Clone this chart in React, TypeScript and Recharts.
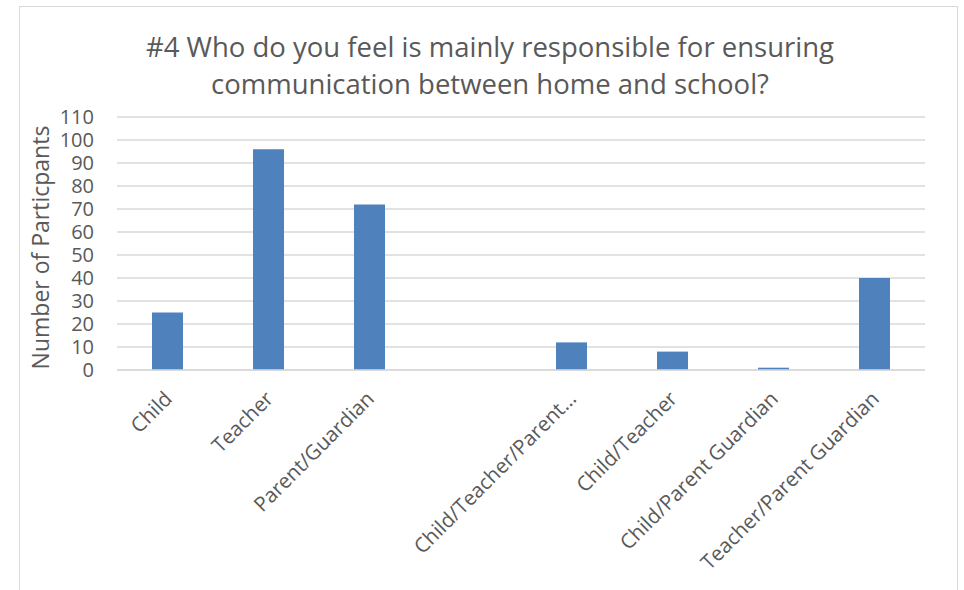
import React from 'react';
import { BarChart, Bar, XAxis, YAxis, CartesianGrid } from 'recharts';

// survey answers (4th slot is an empty category in the source sheet)
const categories = [
  'Child',
  'Teacher',
  'Parent/Guardian',
  '',
  'Child/Teacher/Parent…',
  'Child/Teacher',
  'Child/Parent Guardian',
  'Teacher/Parent Guardian',
];
const participants = [25, 96, 72, null, 12, 8, 1, 40];
const yTicks = [0, 10, 20, 30, 40, 50, 60, 70, 80, 90, 100, 110];

const titleLines = [
  '#4 Who do you feel is mainly responsible for ensuring',
  'communication between home and school?',
];
const yLabel = 'Number of Particpants';

const data = categories.map((name, i) => ({ name, value: participants[i] }));

const FONT = '"Open Sans", "Segoe UI", sans-serif';
const TEXT = '#595959';

const XTick = (props: any) => {
  const { x, y, payload } = props;
  return (
    <g transform={`translate(${x + 6},${y + 28})`}>
      <text
        x={0}
        y={0}
        textAnchor="end"
        transform="rotate(-45)"
        fill={TEXT}
        fontSize={20.5}
        fontFamily={FONT}
      >
        {payload.value}
      </text>
    </g>
  );
};

const YLabel = (props: any) => {
  const { viewBox } = props;
  const cx = 40;
  const cy = viewBox.y + viewBox.height / 2 + 4;
  return (
    <text
      x={cx}
      y={cy}
      transform={`rotate(-90, ${cx}, ${cy})`}
      textAnchor="middle"
      dominantBaseline="central"
      fill={TEXT}
      fontSize={23}
      fontFamily={FONT}
    >
      {yLabel}
    </text>
  );
};

export default function App() {
  return (
    <div style={{ position: 'absolute', left: 0, top: 0, width: 964, height: 590, background: '#fff', overflow: 'hidden' }}>
      <div
        style={{
          position: 'absolute',
          left: 19,
          top: 6,
          width: 939,
          height: 600,
          border: '1px solid #d9d9d9',
          boxSizing: 'border-box',
        }}
      />
      <svg style={{ position: 'absolute', left: 0, top: 0 }} width={964} height={110}>
        {titleLines.map((t, i) => (
          <text
            key={i}
            x={490}
            y={57 + i * 37}
            textAnchor="middle"
            fill={TEXT}
            fontSize={27.5}
            fontFamily={FONT}
          >
            {t}
          </text>
        ))}
      </svg>
      <div style={{ position: 'absolute', left: 0, top: 0 }}>
        <BarChart
          width={964}
          height={590}
          data={data}
          margin={{ top: 117, right: 39, bottom: 0, left: 57 }}
          barSize={31}
        >
          <CartesianGrid vertical={false} stroke="#d9d9d9" strokeWidth={1.5} />
          <XAxis
            dataKey="name"
            height={220}
            interval={0}
            tickLine={false}
            tickSize={0}
            axisLine={{ stroke: '#d9d9d9', strokeWidth: 1.5 }}
            tick={<XTick />}
          />
          <YAxis
            width={60}
            domain={[0, 110]}
            ticks={yTicks}
            interval={0}
            axisLine={false}
            tickLine={false}
            tickSize={0}
            tickMargin={23}
            tick={{ fill: TEXT, fontSize: 20, fontFamily: FONT }}
            label={<YLabel />}
          />
          <Bar dataKey="value" fill="#4f81bd" isAnimationActive={false} />
        </BarChart>
      </div>
    </div>
  );
}
